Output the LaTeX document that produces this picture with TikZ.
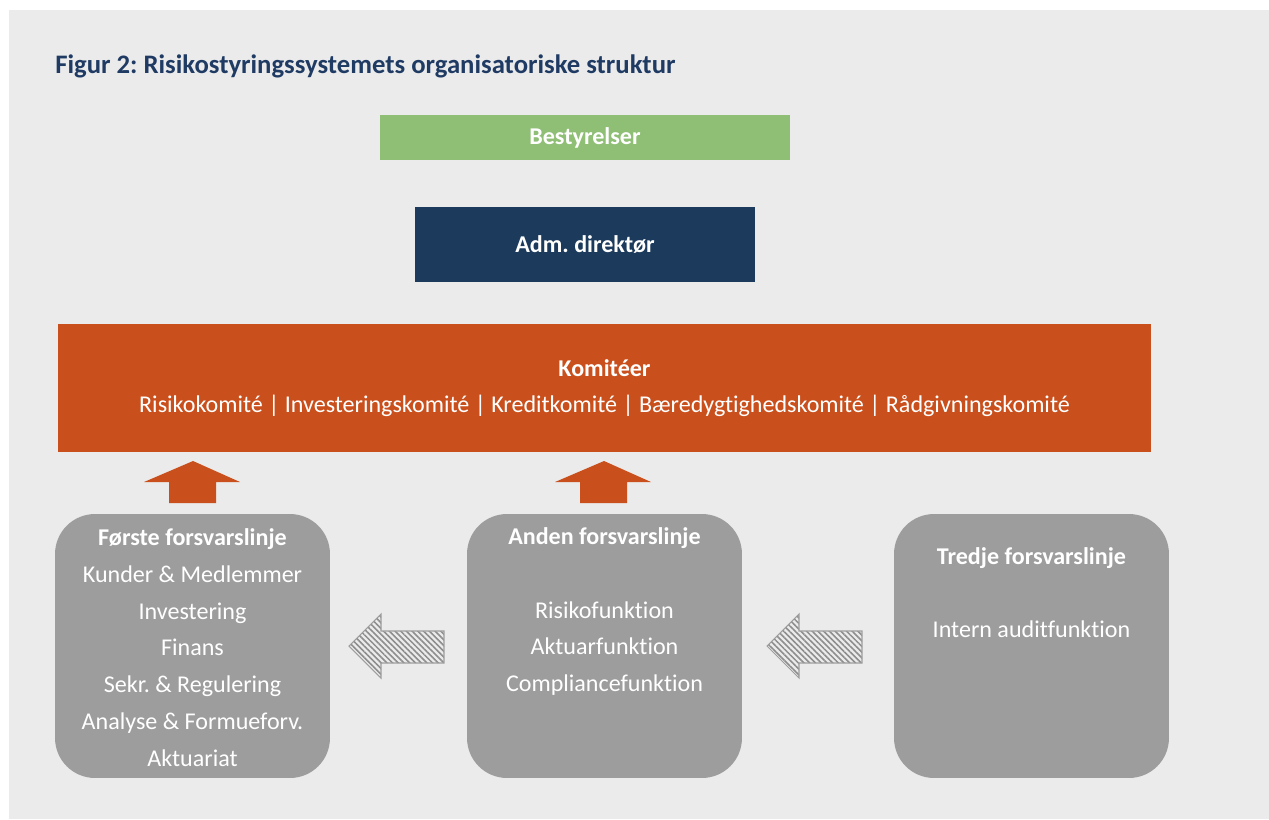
\documentclass[tikz,border=0pt]{standalone}
\usepackage{fontspec}
\setmainfont[Ligatures=NoCommon]{Carlito}
\usepackage{tikz}
\usetikzlibrary{patterns.meta}
\frenchspacing

\definecolor{bgcol}{HTML}{EBEBEB}
\definecolor{titlecol}{HTML}{1F3B64}
\definecolor{greencol}{HTML}{8FBE75}
\definecolor{navycol}{HTML}{1B3A5C}
\definecolor{orangecol}{HTML}{C9501C}
\definecolor{linecol}{HTML}{9D9D9D}

\begin{document}
\begin{tikzpicture}[
		x=0.02cm, y=-0.02cm,
		font=\fontsize{13.7}{20.9}\selectfont,
		block/.style={
			rectangle,
			inner sep=0pt,
			outer sep=0pt,
			text=white,
			text centered,
			align=center
		},
		linebox/.style={
			rectangle,
			rounded corners=0.8cm,
			fill=linecol,
			inner sep=0pt,
			minimum width=5.5cm,
			minimum height=5.28cm
		},
		linetext/.style={
			text=white,
			align=center,
			inner sep=0pt
		},
		uparrow/.style={
			fill=orangecol
		},
		hatcharrow/.style={
			draw=linecol,
			line width=0.6pt,
			pattern={Lines[angle=-45,distance=2.3pt,line width=0.9pt]},
			pattern color=linecol!90!black
		}
		]
		% background and title
		\useasboundingbox (0,0) rectangle (1269,819);
		\fill [bgcol] (9,10) rectangle (1269,819);
		\node [anchor=base west, inner sep=0pt, text=titlecol,
			font=\fontsize{15.2}{18}\selectfont\bfseries] (title) at (55,73)
			{Figur 2: Risikostyringssystemets organisatoriske struktur};
		
		% the top blocks
		\node [block, fill=greencol, minimum width=8.2cm, minimum height=0.9cm,
			font=\fontsize{13.7}{20.9}\selectfont\bfseries] (bestyrelser) at (585,137.5) {Bestyrelser};
		
		\node [block, fill=navycol, minimum width=6.8cm, minimum height=1.5cm,
			font=\fontsize{13.7}{20.9}\selectfont\bfseries] (direktor) at (585,244.5) {Adm. direktør};
		
		\node [block, fill=orangecol, minimum width=21.86cm, minimum height=2.56cm] (komiteer) at (604.5,388)
		{%
			\textbf{Komitéer}\\
			Risikokomité | Investeringskomité | Kreditkomité | Bæredygtighedskomité | Rådgivningskomité
		};
		
		% the three lines of defence
		\node [linebox] (forste) at (192.5,646) {};
		\node [linebox] (anden) at (604.5,646) {};
		\node [linebox] (tredje) at (1031.5,646) {};
		
		\node [linetext, yshift=-0.03cm] (forste-txt) at (forste)
		{%
			\textbf{Første forsvarslinje}\\
			Kunder \& Medlemmer\\
			Investering\\
			Finans\\
			Sekr. \& Regulering\\
			Analyse \& Formueforv.\\
			Aktuariat
		};
		
		\node [linetext, yshift=0.69cm] (anden-txt) at (anden)
		{%
			\textbf{Anden forsvarslinje}\\[20.9pt]
			Risikofunktion\\
			Aktuarfunktion\\
			Compliancefunktion
		};
		
		\node [linetext, yshift=1.07cm] (tredje-txt) at (tredje)
		{%
			\textbf{Tredje forsvarslinje}\\[20.9pt]
			Intern auditfunktion
		};
		
		% block arrows
		\fill [uparrow] (169,503) -- (169,482) -- (144,482) -- (193,461) -- (240,482) -- (216,482) -- (216,503) -- cycle;
		\fill [uparrow] (580,503) -- (580,482) -- (555,482) -- (604,461) -- (651,482) -- (627,482) -- (627,503) -- cycle;
		
		\draw [hatcharrow] (349,646) -- (381,614) -- (381,631) -- (444,631) -- (444,663) -- (381,663) -- (381,678) -- cycle;
		\draw [hatcharrow] (767,646) -- (799,614) -- (799,631) -- (862,631) -- (862,663) -- (799,663) -- (799,678) -- cycle;
		
\end{tikzpicture}
\end{document}
